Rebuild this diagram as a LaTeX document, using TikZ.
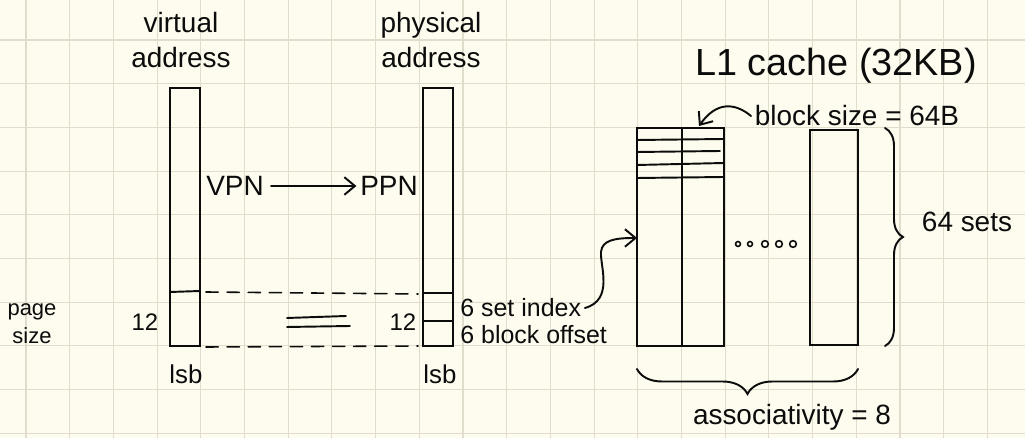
\documentclass[tikz,border=0pt]{standalone}
\usepackage{fontspec}
\setmainfont{Liberation Sans}
\usetikzlibrary{arrows.meta,decorations.pathreplacing}
\definecolor{paper}{RGB}{254,252,239}
\definecolor{gridc}{RGB}{224,221,204}
\definecolor{ink}{RGB}{12,12,12}
\begin{document}
\begin{tikzpicture}[x=0.02cm,y=-0.02cm,
  pen/.style={draw=ink,line width=1.1pt,line cap=round},
  bar/.style={pen,rectangle,inner sep=0pt,outer sep=0pt,anchor=north west},
  lbl/.style={text=ink,inner sep=2pt},
  gridline/.style={draw=gridc,line width=0.6pt},
  tipped/.style={pen,-{Straight Barb[length=6pt,width=10pt,line width=1.1pt]}},
  dashline/.style={pen,line width=0.9pt,dash pattern=on 7pt off 5pt},
  brc/.style={pen,decorate}]
% paper and grid
\fill[paper] (0,0) rectangle (1025,438);
\useasboundingbox (0,0) rectangle (1025,438);
\foreach \k in {0,...,22} \draw[gridline] ({26+43.7*\k},0) -- ({26+43.7*\k},438);
\foreach \k in {0,...,9} \draw[gridline] (0,{40+43.7*\k}) -- (1025,{40+43.7*\k});

% address bars
\node[bar,minimum width=0.6cm,minimum height=5.16cm] (va) at (170,88) {};
\node[bar,minimum width=0.6cm,minimum height=5.16cm] (pa) at (423,88) {};
\draw[pen] (va.west |- 0,292) -- (va.east |- 0,291);
\draw[pen] (pa.west |- 0,293) -- (pa.east |- 0,293);
\draw[pen] (pa.west |- 0,321) -- (pa.east |- 0,321);

% labels of the address bars
\node[lbl,align=center,font=\fontsize{15.9}{19.8}\selectfont] (vlab) at (181,40) {virtual\\address};
\node[lbl,align=center,font=\fontsize{15.9}{19.8}\selectfont] (plab) at (431,40) {physical\\address};
\node[lbl,font=\fontsize{15.9}{18}\selectfont] (vpn) at (235,186) {VPN};
\node[lbl,font=\fontsize{15.9}{18}\selectfont] (ppn) at (389,186) {PPN};
\draw[tipped,shorten <=2pt] (vpn.east) -- (ppn.west);

\node[lbl,font=\fontsize{13.6}{16}\selectfont] (tw1) at (145,322) {12};
\node[lbl,font=\fontsize{13.6}{16}\selectfont] (tw2) at (403,322) {12};
\node[lbl,align=center,font=\fontsize{12.5}{15.9}\selectfont] (psize) at (32,324) {page\\size};
\node[lbl,font=\fontsize{14.7}{17}\selectfont] (lsb1) at (186,374) {lsb};
\node[lbl,font=\fontsize{14.7}{17}\selectfont] (lsb2) at (440,374) {lsb};

% dashed correspondence and equal sign
\coordinate (vt) at (206,292);
\coordinate (pt) at (418,294);
\coordinate (vb) at (206,347);
\coordinate (pb) at (418,346);
\draw[dashline] (vt) -- (pt);
\draw[dashline] (vb) -- (pb);
\coordinate (e1a) at (287,318);
\coordinate (e1b) at (346,316);
\coordinate (e2a) at (287,327);
\coordinate (e2b) at (350,326);
\draw[pen] (e1a) -- (e1b);
\draw[pen] (e2a) -- (e2b);

% physical address fields
\node[lbl,anchor=west,inner sep=0pt,font=\fontsize{14.2}{16}\selectfont] (setidx) at (460,308) {6 set index};
\node[lbl,anchor=west,inner sep=0pt,font=\fontsize{14.2}{16}\selectfont] (blkoff) at (460,335) {6 block offset};

% cache
\node[lbl,font=\fontsize{21.5}{24}\selectfont] (title) at (836,66) {L1 cache (32KB)};
\node[bar,minimum width=0.9cm,minimum height=4.36cm] (c1) at (637,128) {};
\node[bar,minimum width=0.84cm,minimum height=4.36cm] (c2) at (682,128) {};
\node[bar,minimum width=0.96cm,minimum height=4.3cm] (c8) at (810,130) {};
\draw[pen] (c1.west |- 0,140) -- (c2.east |- 0,139);
\draw[pen] (c1.west |- 0,152) -- (720,151);
\draw[pen] (c1.west |- 0,165) -- (c2.east |- 0,163);
\draw[pen] (c1.west |- 0,178) -- (c2.east |- 0,177);

% dots between ways
\foreach \xx/\rr in {738/1.4pt,750/1.4pt,765/1.9pt,779/1.9pt,793/1.9pt}
  \draw[pen,line width=0.9pt] (\xx,244) circle[radius=\rr];

% block size
\node[lbl,font=\fontsize{15.9}{18}\selectfont] (bsize) at (857,116) {block size = 64B};
\coordinate (btgt) at (699,126);
\draw[tipped] (bsize.west) .. controls (734,102) and (716,102) .. (btgt);

% set index arrow
\coordinate (stgt) at (c1.west |- 0,238);
\draw[tipped] ([xshift=2pt]setidx.east) .. controls (614,300) and (600,266) .. (601,252)
  .. controls (602,240) and (615,238) .. (stgt);

% braces
\draw[brc,decoration={brace,amplitude=0.36cm}] (885,128) -- (885,346);
\node[lbl,font=\fontsize{15.9}{18}\selectfont] (sets) at (967,222) {64 sets};
\draw[brc,decoration={brace,amplitude=0.5cm}] (858,369) -- (637,369);
\node[lbl,font=\fontsize{15.9}{18}\selectfont] (assoc) at (792,417) {associativity = 8};
\end{tikzpicture}
\end{document}
